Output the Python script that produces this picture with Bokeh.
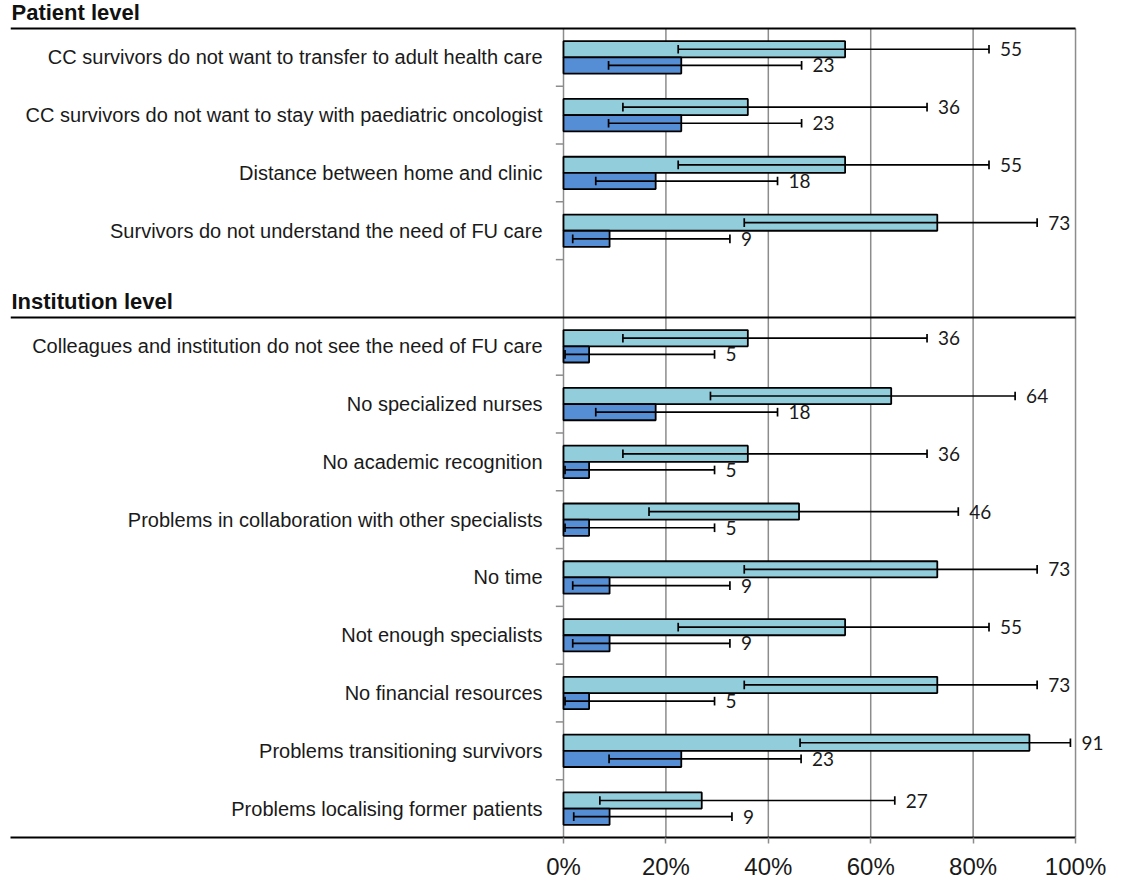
from bokeh.plotting import figure
from bokeh.models import Range1d, FixedTicker, PrintfTickFormatter
from bokeh.core.properties import value
from bokeh.embed import file_html
from bokeh.resources import INLINE

# Barriers, grouped by level (top to bottom)
patient_barriers = [
    "CC survivors do not want to transfer to adult health care",
    "CC survivors do not want to stay with paediatric oncologist",
    "Distance between home and clinic",
    "Survivors do not understand the need of FU care",
]
institution_barriers = [
    "Colleagues and institution do not see the need of FU care",
    "No specialized nurses",
    "No academic recognition",
    "Problems in collaboration with other specialists",
    "No time",
    "Not enough specialists",
    "No financial resources",
    "Problems transitioning survivors",
    "Problems localising former patients",
]
group_titles = ["Patient level", "Institution level"]

# Upper (light) series: percentage and confidence interval
light_pct = [55, 36, 55, 73, 36, 64, 36, 46, 73, 55, 73, 91, 27]
light_lo = [22.4, 11.6, 22.4, 35.3, 11.6, 28.7, 11.6, 16.7, 35.3, 22.4, 35.3, 46.2, 7.1]
light_hi = [83.1, 71.0, 83.1, 92.5, 71.0, 88.2, 71.0, 77.1, 92.5, 83.1, 92.5, 99.0, 64.7]

# Lower (dark) series: percentage and confidence interval
dark_pct = [23, 23, 18, 9, 5, 18, 5, 5, 9, 9, 5, 23, 9]
dark_lo = [8.8, 8.8, 6.3, 1.8, 0.3, 6.3, 0.3, 0.3, 1.8, 1.8, 0.3, 8.9, 2.0]
dark_hi = [46.5, 46.5, 41.8, 32.5, 29.5, 41.8, 29.5, 29.5, 32.5, 32.5, 29.5, 46.4, 32.9]

x_ticks = [0, 20, 40, 60, 80, 100]

LIGHT = "#92CDDC"
DARK = "#558ED5"
GRID = "#8c8c8c"
TEXT = "#1a1a1a"

# one row slot per barrier, an empty slot separates the two groups
n_pat = len(patient_barriers)
slots = list(range(n_pat)) + [n_pat + 1 + j for j in range(len(institution_barriers))]
n_slots = n_pat + 1 + len(institution_barriers)
barriers = patient_barriers + institution_barriers
centres = [s + 0.5 for s in slots]
bar_h = 0.28
y_light = [c - 0.14 for c in centres]
y_dark = [c + 0.14 for c in centres]
group_lines = [0, n_pat + 1]

X_LEFT = -108
p = figure(
    width=1125, height=884,
    x_range=Range1d(X_LEFT, 108), y_range=Range1d(n_slots, -0.484),
    y_axis_location=None,
    min_border_left=10, min_border_right=9, min_border_top=0, min_border_bottom=47,
    output_backend="svg", toolbar_location=None,
)
p.outline_line_color = None
p.background_fill_color = "white"
p.xgrid.visible = False
p.ygrid.visible = False

ax = p.xaxis[0]
ax.bounds = (X_LEFT, 100)
ax.ticker = FixedTicker(ticks=x_ticks, minor_ticks=[])
ax.formatter = PrintfTickFormatter(format="%d%%")
ax.axis_line_color = "black"
ax.axis_line_width = 2
ax.major_tick_line_color = GRID
ax.major_tick_line_width = 1.5
ax.major_tick_in = 0
ax.major_tick_out = 6
ax.minor_tick_line_color = None
ax.major_label_standoff = 9
ax.major_label_text_font = "Liberation Sans"
ax.major_label_text_font_size = "24px"
ax.major_label_text_color = TEXT

# vertical gridlines over the plotted rows only
p.segment(x0=x_ticks, x1=x_ticks, y0=[0] * len(x_ticks), y1=[n_slots] * len(x_ticks),
          line_color=GRID, line_width=1.5)

# small tick marks between the rows
bounds = [b for b in range(1, n_slots) if b != n_pat + 1]
p.segment(x0=[0] * len(bounds), x1=[-1.5] * len(bounds), y0=bounds, y1=bounds,
          line_color=GRID, line_width=1.5)

# bars
p.hbar(y=y_light, left=0, right=light_pct, height=bar_h,
       fill_color=LIGHT, line_color="black", line_width=1.8)
p.hbar(y=y_dark, left=0, right=dark_pct, height=bar_h,
       fill_color=DARK, line_color="black", line_width=1.8)

# error bars with end caps
cap = 0.075
for ys, lo, hi in ((y_light, light_lo, light_hi), (y_dark, dark_lo, dark_hi)):
    p.segment(x0=lo, x1=hi, y0=ys, y1=ys, line_color="black", line_width=1.7)
    p.segment(x0=lo, x1=lo, y0=[y - cap for y in ys], y1=[y + cap for y in ys],
              line_color="black", line_width=1.7)
    p.segment(x0=hi, x1=hi, y0=[y - cap for y in ys], y1=[y + cap for y in ys],
              line_color="black", line_width=1.7)

# value labels after the error bars
p.text(x=light_hi, y=y_light, text=[str(v) for v in light_pct], x_offset=11,
       text_align="left", text_baseline="middle", text_font=value("Lato"),
       text_font_size="19px", text_color=TEXT)
p.text(x=dark_hi, y=y_dark, text=[str(v) for v in dark_pct], x_offset=11,
       text_align="left", text_baseline="middle", text_font=value("Lato"),
       text_font_size="19px", text_color=TEXT)

# category labels left of the value axis
p.text(x=[0] * len(barriers), y=centres, text=barriers, x_offset=-21,
       text_align="right", text_baseline="middle",
       text_font=value("Liberation Sans"), text_font_size="20px", text_color=TEXT)

# group header lines and titles
p.segment(x0=[X_LEFT] * 2, x1=[100] * 2, y0=group_lines, y1=group_lines,
          line_color="black", line_width=2)
p.text(x=[X_LEFT] * 2, y=group_lines, text=group_titles, x_offset=1, y_offset=-3,
       text_align="left", text_baseline="bottom",
       text_font=value("Liberation Sans"), text_font_style="bold",
       text_font_size="22px", text_color="#111111")

open("out.html", "w").write(file_html(p, INLINE))
